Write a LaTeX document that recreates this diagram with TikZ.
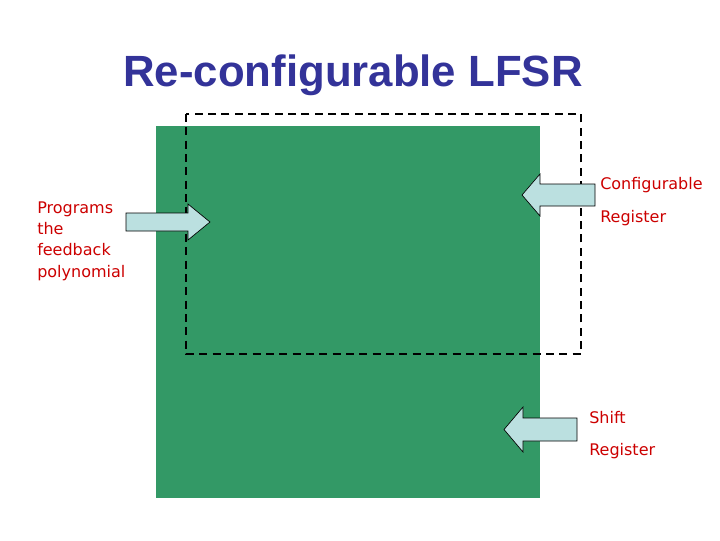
\documentclass[tikz,border=0pt]{standalone}
\usepackage{fontspec}
\setmainfont{DejaVu Sans}
\newfontfamily\titlefont{Liberation Sans}
\definecolor{titleblue}{HTML}{333399}
\definecolor{regreen}{HTML}{339966}
\definecolor{arrowfill}{HTML}{BBE0E0}
\definecolor{labelred}{HTML}{CC0000}
\tikzset{lbl/.style={anchor=base west,text=labelred,inner sep=0pt,font=\fontsize{12}{15}\selectfont}}

\begin{document}
\begin{tikzpicture}[x=0.75pt,y=-0.75pt]
\useasboundingbox (0,0) rectangle (720,540);
\coordinate (PROG) at (126,222);
\coordinate (CONF) at (595,194.5);
\coordinate (SHIFT) at (577,429.5);
% shift register and configurable part
\fill[regreen] (156,126) rectangle (540,498);
\draw[line width=1.5pt,dash pattern=on 6pt off 4pt] (186,114) rectangle (581,354);
% title
\node[anchor=base,text=titleblue] (title) at (353,86) {\titlefont\fontsize{32.8}{38}\selectfont\bfseries Re-configurable LFSR};
% feedback polynomial
\node[lbl] (prog1) at (37,213) {Programs};
\node[lbl] (prog2) at (37,234) {the};
\node[lbl] (prog3) at (37,255) {feedback};
\node[lbl] (prog4) at (37,277) {polynomial};
\draw[fill=arrowfill,line width=0.5pt] (PROG) ++ (0,-9) -- ++(62,0) -- ++(0,-9) -- ++(22,18)
-- ++(-22,18) -- ++(0,-9) -- ++(-62,0) -- cycle;
% configurable register
\node[lbl] (conf) at (600,189) {Configurable};
\node[lbl] (confreg) at (600,222) {Register};
\draw[fill=arrowfill,line width=0.5pt] (CONF) ++ (0,-10.5) -- ++(-55,0) -- ++(0,-10) -- ++(-18,21)
-- ++(18,21) -- ++(0,-10) -- ++(55,0) -- cycle;
% shift register
\node[lbl] (shift) at (589,423) {Shift};
\node[lbl] (shiftreg) at (589,455) {Register};
\draw[fill=arrowfill,line width=0.5pt] (SHIFT) ++ (0,-11.5) -- ++(-54,0) -- ++(0,-11) -- ++(-19,22.5)
-- ++(19,22.5) -- ++(0,-11) -- ++(54,0) -- cycle;
\end{tikzpicture}
\end{document}
